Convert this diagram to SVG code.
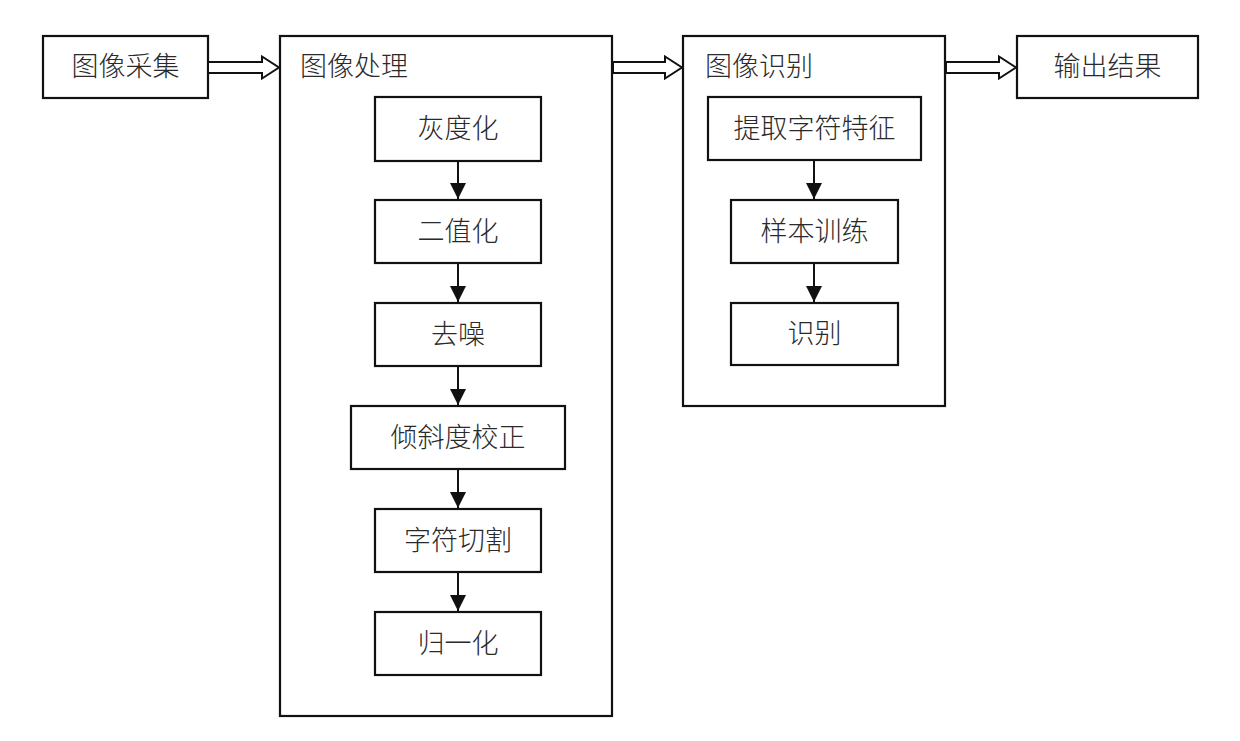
<svg xmlns="http://www.w3.org/2000/svg" width="1240" height="741" viewBox="0 0 1240 741">
<style>
.box{fill:#fff;stroke:#111;stroke-width:2.2}
.t{font-family:"Liberation Serif","Noto Sans CJK SC",serif;font-size:27px;font-weight:300;fill:#2a2a2a;text-anchor:middle;dominant-baseline:central}
.tl{font-family:"Liberation Serif","Noto Sans CJK SC",serif;font-size:27px;font-weight:300;fill:#2a2a2a;dominant-baseline:central}
.ln{stroke:#111;stroke-width:2;fill:none}
.hollow{fill:#fff;stroke:#111;stroke-width:2;stroke-linejoin:miter}
</style>
<defs>
<marker id="ah" markerWidth="16" markerHeight="16" viewBox="0 0 16 16" refX="16" refY="8" orient="auto" markerUnits="userSpaceOnUse">
<path d="M0,0 L16,8 L0,16 Z" fill="#111"/>
</marker>
</defs>
<rect width="1240" height="741" fill="#fff"/>
<g id="n-collect"><rect class="box" x="43" y="36" width="165" height="62"/><text class="t" x="125.5" y="67">图像采集</text></g>
<g id="n-process"><rect class="box" x="280" y="36" width="332" height="680"/><text class="tl" x="300" y="67">图像处理</text></g>
<g id="n-gray"><rect class="box" x="375" y="97" width="166" height="64"/><text class="t" x="458" y="129">灰度化</text></g>
<g id="n-binary"><rect class="box" x="375" y="200" width="166" height="63"/><text class="t" x="458" y="231.5">二值化</text></g>
<g id="n-denoise"><rect class="box" x="375" y="303" width="166" height="63"/><text class="t" x="458" y="334.5">去噪</text></g>
<g id="n-skew"><rect class="box" x="351" y="406" width="214" height="63"/><text class="t" x="458" y="437.5">倾斜度校正</text></g>
<g id="n-segment"><rect class="box" x="375" y="509" width="166" height="63"/><text class="t" x="458" y="540.5">字符切割</text></g>
<g id="n-normalize"><rect class="box" x="375" y="612" width="166" height="63"/><text class="t" x="458" y="643.5">归一化</text></g>
<g id="n-recognize"><rect class="box" x="683" y="36" width="262" height="370"/><text class="tl" x="705" y="67">图像识别</text></g>
<g id="n-feature"><rect class="box" x="708" y="97" width="213" height="63"/><text class="t" x="814.5" y="128.5">提取字符特征</text></g>
<g id="n-train"><rect class="box" x="731" y="200" width="167" height="63"/><text class="t" x="814.5" y="231.5">样本训练</text></g>
<g id="n-identify"><rect class="box" x="731" y="303" width="167" height="62"/><text class="t" x="814.5" y="334">识别</text></g>
<g id="n-output"><rect class="box" x="1017" y="36" width="181" height="62"/><text class="t" x="1107.5" y="67">输出结果</text></g>
<g id="connectors">
<polygon class="hollow" points="208,62 262,62 262,56.5 279,67.5 262,78.5 262,73 208,73"/>
<polygon class="hollow" points="613,62 665,62 665,56.5 682,67.5 665,78.5 665,73 613,73"/>
<polygon class="hollow" points="946,62 999,62 999,56.5 1016,67.5 999,78.5 999,73 946,73"/>
<line class="ln" x1="458" y1="161" x2="458" y2="199" marker-end="url(#ah)"/>
<line class="ln" x1="458" y1="263" x2="458" y2="302" marker-end="url(#ah)"/>
<line class="ln" x1="458" y1="366" x2="458" y2="405" marker-end="url(#ah)"/>
<line class="ln" x1="458" y1="469" x2="458" y2="508" marker-end="url(#ah)"/>
<line class="ln" x1="458" y1="572" x2="458" y2="611" marker-end="url(#ah)"/>
<line class="ln" x1="814" y1="160" x2="814" y2="199" marker-end="url(#ah)"/>
<line class="ln" x1="814" y1="263" x2="814" y2="302" marker-end="url(#ah)"/>
</g>
</svg>
